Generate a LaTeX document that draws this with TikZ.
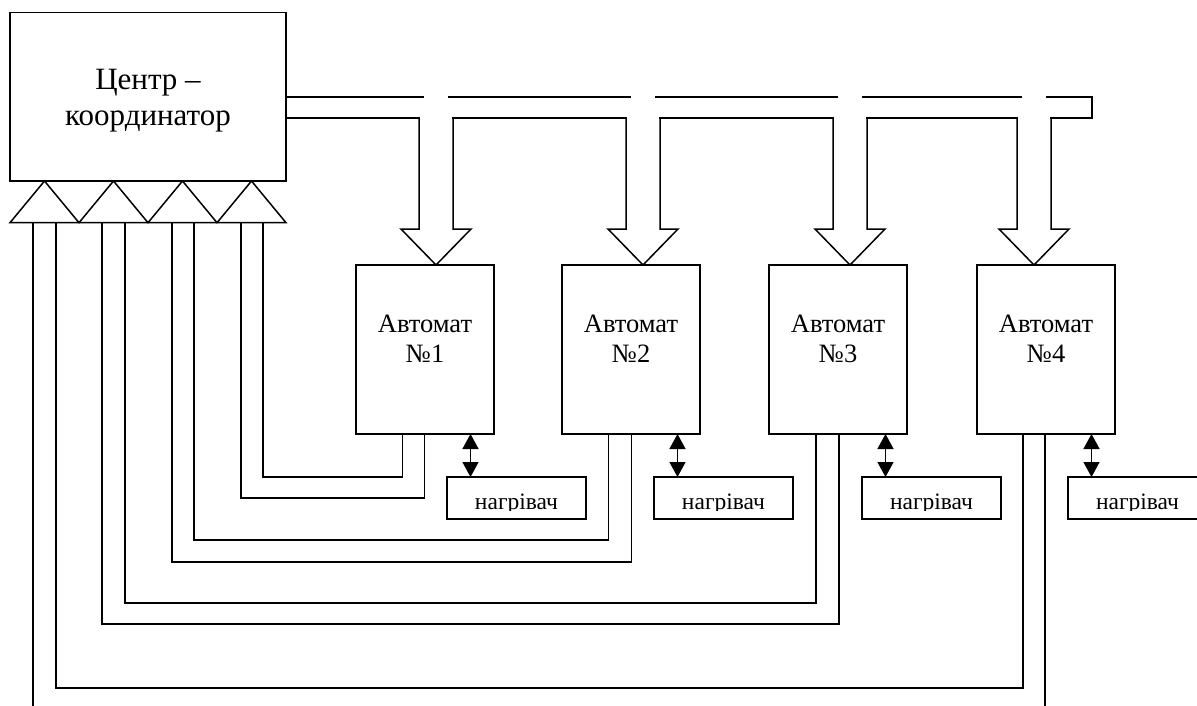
\documentclass[tikz,border=0pt]{standalone}
\usepackage{fontspec}
\setmainfont{Liberation Serif}
\usetikzlibrary{arrows.meta}
\begin{document}
\begin{tikzpicture}[x=1pt, y=-1pt, line width=1.5pt, line join=miter,
  box/.style={draw, rectangle, inner sep=0pt, outer sep=0pt, anchor=north west},
  heatbox/.style={rectangle, inner sep=0pt, outer sep=0pt, anchor=north west,
    minimum width=139pt, minimum height=42pt},
  lbl/.style={inner sep=0pt, anchor=base},
  bigtxt/.style={lbl, font=\fontsize{31}{36}\selectfont},
  midtxt/.style={lbl, font=\fontsize{26.5}{30}\selectfont},
  smalltxt/.style={lbl, font=\fontsize{23.5}{26}\selectfont},
  both/.style={{Triangle[width=16pt,length=15pt]}-{Triangle[width=16pt,length=15pt]}}]

\useasboundingbox (0,0) rectangle (1197,706);

% coordinator with its four input triangles
\node[box, minimum width=276pt, minimum height=168.3pt] (cc) at (10,12.7) {};
\node[bigtxt] (cct1) at (148,90) {Центр –};
\node[bigtxt] (cct2) at (148,126) {координатор};
\draw (10,222.7) -- (44.5,181) -- (79,222.7) -- (113.5,181) -- (148,222.7)
      -- (182.5,181) -- (217,222.7) -- (251.5,181) -- (286,222.7) -- cycle;
\foreach \n/\x in {1/33,2/56,3/102,4/125,5/172,6/194,7/241,8/263}
  \coordinate (q\n) at (\x,222.7);

% automata
\foreach \n/\x in {1/356,2/562,3/769,4/977}{
  \node[box, minimum width=138pt, minimum height=169pt] (a\n) at (\x,265) {};
  \node[midtxt] (at\n) at ([xshift=69pt,yshift=-67pt]a\n.north west) {Автомат};
  \node[midtxt] (an\n) at ([xshift=69pt,yshift=-97pt]a\n.north west) {№\n};
}

% common bus from the coordinator
\draw (cc.east |- 0,97) -- (1092,97) -- (1092,118) -- (cc.east |- 0,118);
\foreach \n/\x in {1/436,2/643,3/850,4/1034}{
  \fill[white] (\x-16.2,116.5) rectangle (\x+16.2,119.6);
  \fill[white] (\x-12,95.4) rectangle (\x+12,98.6);
  \draw (\x-17,118) -- (\x-17,229) -- (\x-35,229) -- (a\n.north -| \x,0)
        -- (\x+35,229) -- (\x+17,229) -- (\x+17,118);
}

% heaters
\foreach \n/\x in {1/447,2/654,3/862,4/1068}{
  \node[heatbox] (h\n) at (\x,477) {};
  \begin{scope}
    \clip (h\n.north west) rectangle ([yshift=-33.5pt]h\n.north east);
    \node[smalltxt] (ht\n) at ([xshift=69.5pt,yshift=-32pt]h\n.north west) {нагрівач};
  \end{scope}
  \path ([xshift=23.5pt]h\n.north west) coordinate (d\n);
  \draw[both] (d\n |- a\n.south) -- (d\n);
}
\foreach \n in {1,2,3}
  \draw (h\n.north west) rectangle (h\n.south east);
\draw (h4.north east) -- (h4.north west) -- (h4.south west) -- (h4.south east);

% feedback lines from the automata to the coordinator inputs
\draw ([xshift=46.5pt]a1.south west) -- ++(0,43)  -| (q8);
\draw ([xshift=68.5pt]a1.south west) -- ++(0,64)  -| (q7);
\draw ([xshift=46.5pt]a2.south west) -- ++(0,106) -| (q6);
\draw ([xshift=69.5pt]a2.south west) -- ++(0,128) -| (q5);
\draw ([xshift=47pt]a3.south west)   -- ++(0,169) -| (q4);
\draw ([xshift=70pt]a3.south west)   -- ++(0,190) -| (q3);
\draw ([xshift=46pt]a4.south west)   -- ++(0,254) -| (q2);
\coordinate (e4) at (1045,707);
\coordinate (e1) at (33,707);
\draw ([xshift=68pt]a4.south west) -- (e4);
\draw (q1) -- (e1);
\end{tikzpicture}
\end{document}
